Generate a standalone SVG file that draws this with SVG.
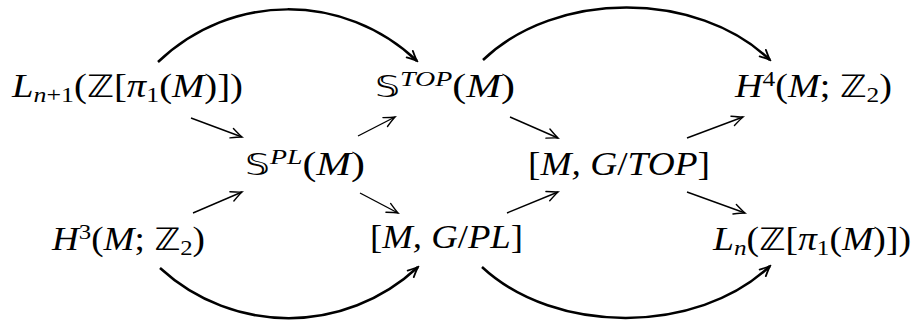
<svg xmlns="http://www.w3.org/2000/svg" width="914" height="322" viewBox="0 0 914 322">
<defs>
<style>
text{font-family:"Liberation Serif","DejaVu Serif",serif;font-size:33px;fill:#000}
.i{font-style:italic}
.s{font-size:22px}
.bb{font-family:"DejaVu Sans","Noto Sans",sans-serif;font-size:31px}
.a{fill:none;stroke:#000;stroke-width:1.4}
.c{fill:none;stroke:#000;stroke-width:2.5}
</style>
<marker id="h" viewBox="-12 -7 14 14" markerWidth="14" markerHeight="14" refX="0" refY="0" orient="auto" markerUnits="userSpaceOnUse">
<path d="M-11,-5 Q-3,-1 0,0 Q-3,1 -11,5" fill="none" stroke="#000" stroke-width="1.4" stroke-linecap="round"/>
</marker>
<marker id="hb" viewBox="-12 -7 14 14" markerWidth="14" markerHeight="14" refX="0" refY="0" orient="auto" markerUnits="userSpaceOnUse">
<path d="M-10,-4.5 Q-3,-1 0,0 Q-3,1 -10,4.5" fill="none" stroke="#000" stroke-width="1.8" stroke-linecap="round"/>
</marker>
</defs>
<g id="n1"><text x="12" y="97" textLength="231" lengthAdjust="spacingAndGlyphs"><tspan class="i">L</tspan><tspan class="s" dy="5"><tspan class="i">n</tspan>+1</tspan><tspan dy="-5">(</tspan><tspan class="bb">ℤ</tspan>[<tspan class="i">π</tspan><tspan class="s" dy="5">1</tspan><tspan dy="-5">(</tspan><tspan class="i">M</tspan>)])</text></g>
<g id="n2"><text x="375" y="97" textLength="140" lengthAdjust="spacingAndGlyphs"><tspan class="bb">𝕊</tspan><tspan class="s i" dy="-11">TOP</tspan><tspan dy="11">(</tspan><tspan class="i">M</tspan>)</text></g>
<g id="n3"><text x="735" y="97" textLength="157" lengthAdjust="spacingAndGlyphs"><tspan class="i">H</tspan><tspan class="s" dy="-11">4</tspan><tspan dy="11">(</tspan><tspan class="i">M</tspan>; <tspan class="bb">ℤ</tspan><tspan class="s" dy="5">2</tspan><tspan dy="-5">)</tspan></text></g>
<g id="n4"><text x="245" y="175" textLength="120" lengthAdjust="spacingAndGlyphs"><tspan class="bb">𝕊</tspan><tspan class="s i" dy="-11">PL</tspan><tspan dy="11">(</tspan><tspan class="i">M</tspan>)</text></g>
<g id="n5"><text x="528" y="175" textLength="182" lengthAdjust="spacingAndGlyphs">[<tspan class="i">M, G</tspan>/<tspan class="i">TOP</tspan>]</text></g>
<g id="n6"><text x="52" y="250" textLength="153" lengthAdjust="spacingAndGlyphs"><tspan class="i">H</tspan><tspan class="s" dy="-11">3</tspan><tspan dy="11">(</tspan><tspan class="i">M</tspan>; <tspan class="bb">ℤ</tspan><tspan class="s" dy="5">2</tspan><tspan dy="-5">)</tspan></text></g>
<g id="n7"><text x="370" y="248" textLength="153" lengthAdjust="spacingAndGlyphs">[<tspan class="i">M, G</tspan>/<tspan class="i">PL</tspan>]</text></g>
<g id="n8"><text x="713" y="250" textLength="198" lengthAdjust="spacingAndGlyphs"><tspan class="i">L</tspan><tspan class="s i" dy="5">n</tspan><tspan dy="-5">(</tspan><tspan class="bb">ℤ</tspan>[<tspan class="i">π</tspan><tspan class="s" dy="5">1</tspan><tspan dy="-5">(</tspan><tspan class="i">M</tspan>)])</text></g>
<g id="connectors">
<path class="a" marker-end="url(#h)" d="M191,118 L242,137"/>
<path class="a" marker-end="url(#h)" d="M193,213 L242,192"/>
<path class="a" marker-end="url(#h)" d="M358,136 L395,117"/>
<path class="a" marker-end="url(#h)" d="M360,193 L398,213"/>
<path class="a" marker-end="url(#h)" d="M510,117 L558,138"/>
<path class="a" marker-end="url(#h)" d="M507,213 L558,192"/>
<path class="a" marker-end="url(#h)" d="M687,138 L743,117"/>
<path class="a" marker-end="url(#h)" d="M687,192 L745,213"/>
<path class="c" marker-end="url(#hb)" d="M158,62 C231,-8 344,-8 417,61"/>
<path class="c" marker-end="url(#hb)" d="M483,60 C556,-10 697,-10 770,60"/>
<path class="c" marker-end="url(#hb)" d="M160,268 C233,335 345,335 418,267"/>
<path class="c" marker-end="url(#hb)" d="M482,267 C555,335 697,335 770,266"/>
</g>
</svg>
